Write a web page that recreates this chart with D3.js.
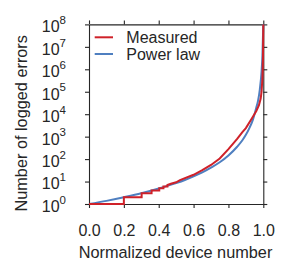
<!DOCTYPE html>
<html>
<head>
<meta charset="utf-8">
<script src="https://cdn.jsdelivr.net/npm/d3@7"></script>
<style>
  body { margin: 0; background: #fff; }
  svg text { font-family: "Liberation Sans", Arial, sans-serif; fill: #262626; }
</style>
</head>
<body>
<svg class="chart"></svg>
<script>
// x positions are normalized device number, values are error counts
var measuredX = [0, 0.2, 0.2, 0.302, 0.302, 0.359, 0.359, 0.403, 0.403, 0.427, 0.427, 0.45, 0.45, 0.47,
                 0.5, 0.522, 0.6, 0.65, 0.7, 0.75, 0.8, 0.85, 0.88, 0.9, 0.935, 0.96, 0.975, 0.985, 0.99, 0.995, 0.998, 1.0];
var measuredY = [1, 1, 2, 2, 3, 3, 4, 4, 5, 5, 6, 6, 7, 8,
                 9.3, 11.5, 20, 32, 55, 107, 280, 790, 1600, 2400, 6600, 14000, 25000, 50000, 1e5, 4e5, 3e6, 1e8];

var powerX = [0, 0.1, 0.2, 0.3, 0.4, 0.5, 0.55, 0.6, 0.65, 0.7, 0.75, 0.8, 0.85, 0.88, 0.9, 0.92, 0.94, 0.96, 0.97, 0.98, 0.99, 0.995, 1.0];
var powerY = [1, 1.38, 2, 3, 4.9, 8.5, 11.7, 17, 25.7, 41.7, 72, 145, 355, 690, 1200, 2400, 5600, 20000, 40000, 1.26e5, 8e5, 4e6, 1e8];

var xTicks = [0, 0.2, 0.4, 0.6, 0.8, 1.0];
var yTicks = [1, 1e1, 1e2, 1e3, 1e4, 1e5, 1e6, 1e7, 1e8];

var seriesNames = ["Measured", "Power law"];
var seriesColors = ["#cf2129", "#4f7fc0"];

var width = 290;
var height = 273;

var x = d3.scaleLinear()
    .domain([0, 1])
    .range([89, 263.3]);

var y = d3.scaleLog()
    .domain([1, 1e8])
    .range([204, 24.4]);

var svg = d3.select("svg.chart")
    .attr("width", width)
    .attr("height", height);

var ink = "#262626";

function styleAxis(g) {
    g.selectAll("path.domain").attr("stroke", ink).attr("stroke-width", 1.1);
    g.selectAll(".tick line").attr("stroke", ink).attr("stroke-width", 1.1);
}

// bottom axis with labels
var xAxis = svg.append("g")
    .attr("transform", "translate(0,204)")
    .call(d3.axisBottom(x).tickValues(xTicks).tickSize(4).tickSizeOuter(0).tickPadding(16.5)
        .tickFormat(d3.format(".1f")))
    .call(styleAxis);
xAxis.selectAll(".tick text")
    .attr("font-size", 16)
    .attr("font-family", "Liberation Sans, Arial, sans-serif")
    .attr("fill", ink);

// top axis, ticks only
svg.append("g")
    .attr("transform", "translate(0,24.4)")
    .call(d3.axisTop(x).tickValues(xTicks).tickSize(4).tickSizeOuter(0).tickFormat(""))
    .call(styleAxis);

// left axis with 10^n labels
var yAxis = svg.append("g")
    .attr("transform", "translate(89,0)")
    .call(d3.axisLeft(y).tickValues(yTicks).tickSize(4).tickSizeOuter(0).tickPadding(19)
        .tickFormat(""))
    .call(styleAxis);
yAxis.selectAll(".tick text")
    .attr("font-size", 16)
    .attr("font-family", "Liberation Sans, Arial, sans-serif")
    .attr("fill", ink)
    .attr("dy", "0.46em")
    .each(function(d) {
        var t = d3.select(this);
        t.append("tspan").text("10");
        t.append("tspan")
            .attr("dy", -8.2)
            .attr("font-size", 11.5)
            .text(Math.round(Math.log10(d)));
    });

// right axis, ticks only
svg.append("g")
    .attr("transform", "translate(263.3,0)")
    .call(d3.axisRight(y).tickValues(yTicks).tickSize(4).tickSizeOuter(0).tickFormat(""))
    .call(styleAxis);

var line = d3.line()
    .x(function(d) { return x(d.x); })
    .y(function(d) { return y(d.y); });

var powerPts = powerX.map(function(v, i) { return {x: v, y: powerY[i]}; });
var measuredPts = measuredX.map(function(v, i) { return {x: v, y: measuredY[i]}; });

svg.append("path")
    .attr("d", line.curve(d3.curveMonotoneX)(powerPts))
    .attr("fill", "none")
    .attr("stroke", seriesColors[1])
    .attr("stroke-width", 2);

svg.append("path")
    .attr("d", line.curve(d3.curveLinear)(measuredPts))
    .attr("fill", "none")
    .attr("stroke", seriesColors[0])
    .attr("stroke-width", 2);

// legend
var legend = svg.append("g")
    .selectAll("g")
    .data(seriesNames)
    .enter()
    .append("g")
    .attr("transform", function(d, i) { return "translate(0," + (37.3 + i * 16.7) + ")"; });

legend.append("line")
    .attr("x1", 94.7)
    .attr("x2", 113)
    .attr("stroke", function(d, i) { return seriesColors[i]; })
    .attr("stroke-width", 2);

legend.append("text")
    .attr("x", 126.3)
    .attr("y", 6)
    .attr("font-size", 16)
    .text(function(d) { return d; });

// axis titles
svg.append("text")
    .attr("x", 175.5)
    .attr("y", 258)
    .attr("text-anchor", "middle")
    .attr("font-size", 16.3)
    .text("Normalized device number");

svg.append("text")
    .attr("transform", "translate(26.5,123.3) rotate(-90)")
    .attr("text-anchor", "middle")
    .attr("font-size", 16.3)
    .text("Number of logged errors");
</script>
</body>
</html>
